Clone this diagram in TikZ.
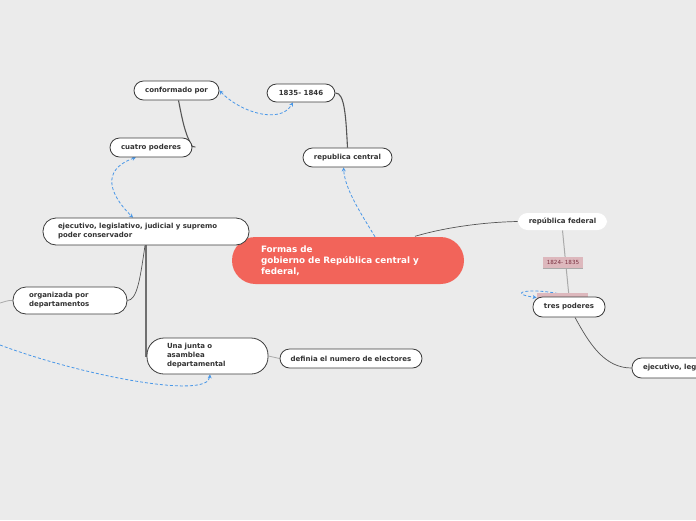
\documentclass[tikz,border=0pt]{standalone}
\usepackage{fontspec}
\setmainfont{DejaVu Sans}
\usetikzlibrary{arrows.meta,calc}
\pgfdeclarelayer{back}
\pgfdeclarelayer{bg}
\pgfsetlayers{back,bg,main}
\definecolor{bgc}{HTML}{EBEBEB}
\definecolor{bordc}{HTML}{3C3C3C}
\definecolor{txtc}{HTML}{333333}
\definecolor{redc}{HTML}{F2645A}
\definecolor{bluec}{HTML}{4A98E8}
\definecolor{pinkc}{HTML}{DDB8BD}
\definecolor{pinktxt}{HTML}{7A3040}
\definecolor{linec}{HTML}{555555}
\definecolor{midgray}{HTML}{707070}
\definecolor{lgray}{HTML}{AAAAAA}
\begin{document}
\begin{tikzpicture}[x=1pt,y=-1pt,
  topic/.style={draw=bordc,line width=0.8pt,fill=white,rounded corners=#1,
    font=\fontsize{7}{9}\selectfont\bfseries,text=txtc,inner sep=0pt},
  topic/.default=9.5pt,
  central/.style={fill=redc,rounded corners=23.5pt,inner sep=0pt,
    font=\fontsize{8.8}{11}\selectfont\bfseries,text=white},
  pinklbl/.style={fill=pinkc,inner sep=0pt,font=\fontsize{5.6}{6}\selectfont,text=pinktxt},
  conn/.style={draw=linec,line width=1.1pt},
  thinconn/.style={draw=linec,line width=0.7pt},
  grayconn/.style={draw=lgray,line width=1pt},
  rel/.style={draw=bluec,line width=0.8pt,dashed,dash pattern=on 3pt off 2pt},
  tip/.style={-{Stealth[length=4pt,width=4pt]}},
  bothtips/.style={{Stealth[length=4pt,width=4pt]}-{Stealth[length=4pt,width=4pt]}}
]
\useasboundingbox (0,0) rectangle (696,520);
\begin{pgfonlayer}{back}
  \fill[bgc] (0,0) rectangle (696,520);
\end{pgfonlayer}

% nodes
\node[central,minimum width=232pt,minimum height=47pt,text width=174pt,align=left] (ctr) at (348,260.5)
  {Formas de\\gobierno de República central y\\federal,};
\node[topic,minimum width=85pt,minimum height=19pt] (cf) at (176.5,90.5) {conformado por};
\node[topic,minimum width=68pt,minimum height=18pt] (yr) at (301,93) {1835- 1846};
\node[topic,minimum width=82pt,minimum height=19pt] (cp) at (151,147.5) {cuatro poderes};
\node[topic,minimum width=89pt,minimum height=19pt] (rc) at (347.5,157.5) {republica central};
\node[topic=13pt,minimum width=206pt,minimum height=27pt,text width=176pt,align=left] (ej) at (146,231.5)
  {ejecutivo, legislativo, judicial y supremo\\poder conservador};
\node[topic=13pt,minimum width=114pt,minimum height=27pt,text width=82pt,align=left] (org) at (70,300.5)
  {organizada por\\departamentos};
\node[topic=17pt,minimum width=121pt,minimum height=36pt,text width=81pt,align=left] (uj) at (207.5,356)
  {Una junta o\\asamblea\\departamental};
\node[topic,minimum width=142pt,minimum height=19pt] (df) at (351,358.5) {definia el numero de electores};
\node[topic,draw=none,minimum width=89pt,minimum height=17pt] (rf) at (562.5,221.5) {república federal};
\node[pinklbl,minimum width=40pt,minimum height=11pt] (p1) at (563,262.5) {1824- 1835};
\node[pinklbl,minimum width=51pt,minimum height=12pt] (p2) at (562.5,299) {};
\node[topic,minimum width=72pt,minimum height=20pt] (tp) at (569,307) {tres poderes};
\node[topic,minimum width=150pt,minimum height=20pt,text width=128pt,align=left] (el) at (707,368)
  {ejecutivo, legislativo y judicial};

\coordinate (lft1) at (0,303);
\coordinate (lft2) at (0,345);

\begin{pgfonlayer}{bg}
  % solid connectors
  \draw[thinconn] ([xshift=67pt,yshift=0.5pt]ctr.north) .. controls (450,226) and (490,222) .. (rf.west);
  \draw[grayconn] (rf.south) -- (tp.north);
  \draw[lgray,line width=1pt] (p1.south west) -- (p1.south east);
  \draw[thinconn] ([xshift=6pt]tp.south) .. controls (590,345) and (605,368) .. (el.west);
  \draw[conn] (yr.east) .. controls (345,92) and (346,120) .. (rc.north);
  \draw[conn] ([xshift=2pt]cf.south) .. controls (182,118) and (185,135) .. ([yshift=1pt]cp.east)
              -- ++(3,0.5);
  \draw[draw=midgray,line width=1.8pt] (ej.south) -- (ej.south |- uj.west) -- (uj.west);
  \draw[thinconn] ([xshift=-1pt]ej.south) .. controls (140,280) and (137,300) .. (org.east);
  \draw[draw=lgray,line width=0.8pt] (org.west) .. controls (8,300) and (4,302) .. (lft1);
  \draw[draw=lgray,line width=0.8pt] (uj.east) -- (df.west);
  % relationship arrows
  \draw[rel,tip] ([xshift=27pt]ctr.north) .. controls (362,215) and (345,190) .. ([xshift=-4pt]rc.south);
  \draw[rel,bothtips] (cf.east) .. controls (240,112) and (280,125) .. ([xshift=-8pt]yr.south);
  \draw[rel,bothtips] ([xshift=-15pt]cp.south) .. controls (100,170) and (110,195) .. ([xshift=-13pt]ej.north);
  \draw[rel,tip] (lft2) .. controls (80,375) and (208,400) .. ([xshift=2.5pt]uj.south);
  \draw[rel,tip] ([xshift=-6pt,yshift=2pt]tp.north) .. controls (530,287) and (505,293) .. ([xshift=4pt,yshift=-1pt]tp.north west);
\end{pgfonlayer}
\end{tikzpicture}
\end{document}
